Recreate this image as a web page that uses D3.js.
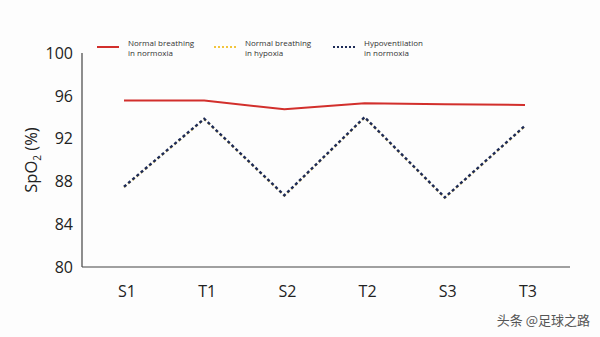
<!DOCTYPE html>
<html><head><meta charset="utf-8">
<script src="https://cdn.jsdelivr.net/npm/d3@7"></script>
<style>body{margin:0;background:#fdfdfd}svg{display:block}</style>
</head><body><svg id="c" width="600" height="337"></svg>
<script>
const categories = ["S1","T1","S2","T2","S3","T3"];
const normoxia = [95.55, 95.55, 94.75, 95.3, 95.2, 95.15];
const hypoxia = [87.45, 93.8, 86.65, 93.95, 86.45, 93.15];
const hypoventilation = [87.5, 93.85, 86.7, 94.0, 86.5, 93.2];
const yTicks = [80, 84, 88, 92, 96, 100];
const seriesNames = [["Normal breathing","in normoxia"],["Normal breathing","in hypoxia"],["Hypoventilation","in normoxia"]];

const svg = d3.select("#c");
const font = "Open Sans, Noto Sans, sans-serif";
const x = d3.scalePoint().domain(categories).range([124, 525]);
const y = d3.scaleLinear().domain([80, 100]).range([267, 53]);

// axes
svg.append("line").attr("x1",82).attr("x2",82).attr("y1",53).attr("y2",267).attr("stroke","#444").attr("stroke-width",1.2);
svg.append("line").attr("x1",82).attr("x2",570).attr("y1",267).attr("y2",267).attr("stroke","#444").attr("stroke-width",1.2);

svg.append("g").selectAll("text").data(yTicks).join("text")
  .attr("x",73).attr("y",d=>y(d)).attr("dy","0.36em").attr("text-anchor","end")
  .attr("font-family",font).attr("font-size",16).attr("fill","#222").text(d=>d);

svg.append("g").selectAll("text").data(categories).join("text")
  .attr("x",d=>x(d)+3).attr("y",291).attr("dy","0.36em").attr("text-anchor","middle")
  .attr("font-family",font).attr("font-size",16).attr("font-weight",500).attr("fill","#222").text(d=>d);

const yl = svg.append("text").attr("transform","translate(37,160) rotate(-90)")
  .attr("text-anchor","middle").attr("font-family",font).attr("font-size",16.5).attr("fill","#222");
yl.append("tspan").text("SpO");
yl.append("tspan").attr("font-size",10).attr("dy",4).text("2");
yl.append("tspan").attr("dy",-4).text(" (%)");

const line = d3.line().x((d,i)=>x(categories[i])).y(d=>y(d));
svg.append("path").datum(normoxia).attr("d",line).attr("fill","none").attr("stroke","#d22f2c").attr("stroke-width",2);
svg.append("path").datum(hypoxia).attr("d",line).attr("fill","none").attr("stroke","#f4d77a").attr("stroke-width",2).attr("stroke-dasharray","3,2.5");
svg.append("path").datum(hypoventilation).attr("d",line).attr("fill","none").attr("stroke","#1d2b57").attr("stroke-width",2.4).attr("stroke-dasharray","3,2.5");

// legend
const lg = [{x:97,c:"#d22f2c",dash:null},{x:214,c:"#f2c53d",dash:"2,2"},{x:333,c:"#1d2b57",dash:"2,2"}];
lg.forEach((l,i)=>{
  svg.append("line").attr("x1",l.x).attr("x2",l.x+22).attr("y1",47).attr("y2",47)
    .attr("stroke",l.c).attr("stroke-width",2).attr("stroke-dasharray",l.dash);
  const t = svg.append("text").attr("x",l.x+31).attr("y",47).attr("font-family",font).attr("font-size",8).attr("fill","#333");
  t.append("tspan").attr("x",l.x+31).attr("dy",-1).text(seriesNames[i][0]);
  t.append("tspan").attr("x",l.x+31).attr("dy",10).text(seriesNames[i][1]);
});

svg.append("text").attr("x",590).attr("y",325).attr("text-anchor","end")
  .attr("font-family","Noto Sans CJK SC, sans-serif").attr("font-size",13).attr("fill","#555").text("头条 @足球之路");
</script></body></html>
